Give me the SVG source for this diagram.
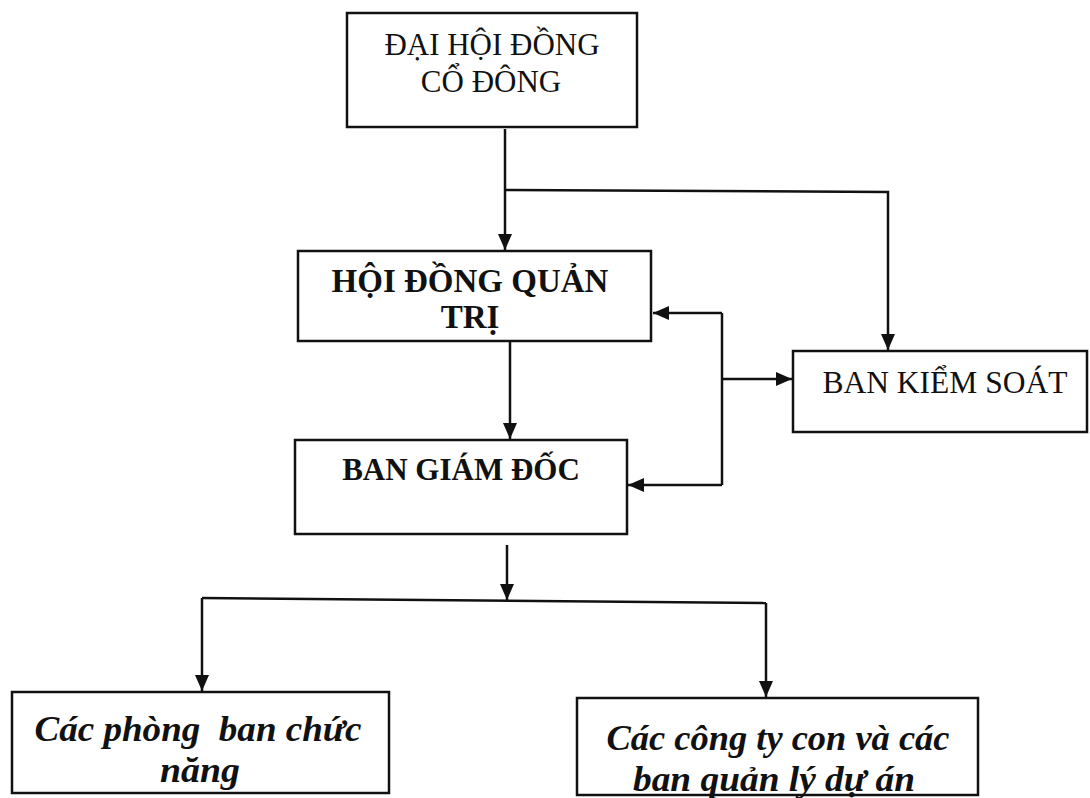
<svg xmlns="http://www.w3.org/2000/svg" width="1090" height="798" viewBox="0 0 1090 798">
<style>
.box{fill:#fff;stroke:#111;stroke-width:2.5}
.ln{fill:none;stroke:#111;stroke-width:2.5}
.t{font-family:"Liberation Serif","Times New Roman",serif;fill:#111;text-anchor:middle}
.b{font-weight:bold}
.bi{font-weight:bold;font-style:italic;font-size:36px}
</style>
<defs>
<marker id="ah" markerUnits="userSpaceOnUse" markerWidth="16" markerHeight="14" viewBox="0 0 16 14" refX="16" refY="7" orient="auto">
<path d="M0,0 L16,7 L0,14 Z" fill="#111"/>
</marker>
</defs>
<rect width="1090" height="798" fill="#fff"/>
<g id="connectors">
<path class="ln" d="M505,129 V250" marker-end="url(#ah)"/>
<path class="ln" d="M505,190 L888,192 V350" marker-end="url(#ah)"/>
<path class="ln" d="M510,342 V439" marker-end="url(#ah)"/>
<path class="ln" d="M722,313 H653" marker-end="url(#ah)"/>
<path class="ln" d="M722,313 V485"/>
<path class="ln" d="M722,485 H628" marker-end="url(#ah)"/>
<path class="ln" d="M722,379 H792" marker-end="url(#ah)"/>
<path class="ln" d="M507,545 V600" marker-end="url(#ah)"/>
<path class="ln" d="M202,598 L766,603"/>
<path class="ln" d="M202,598 V691" marker-end="url(#ah)"/>
<path class="ln" d="M766,603 V697" marker-end="url(#ah)"/>
</g>
<g id="dhdcd">
<rect class="box" x="347" y="13" width="290" height="114"/>
<text class="t" x="492" y="55" font-size="31">ĐẠI HỘI ĐỒNG</text>
<text class="t" x="491" y="92" font-size="31">CỔ ĐÔNG</text>
</g>
<g id="hdqt">
<rect class="box" x="298" y="251" width="353" height="90"/>
<text class="t b" x="470" y="292" font-size="33">HỘI ĐỒNG QUẢN</text>
<text class="t b" x="470" y="328" font-size="33">TRỊ</text>
</g>
<g id="bgd">
<rect class="box" x="295" y="440" width="332" height="94"/>
<text class="t b" x="461" y="480" font-size="31">BAN GIÁM ĐỐC</text>
</g>
<g id="bks">
<rect class="box" x="793" y="351" width="294" height="81"/>
<text class="t" x="945" y="393" font-size="31.5">BAN KIỂM SOÁT</text>
</g>
<g id="phongban">
<rect class="box" x="12" y="692" width="377" height="101"/>
<text class="t bi" x="198" y="741" textLength="327" lengthAdjust="spacingAndGlyphs" xml:space="preserve">Các phòng  ban chức</text>
<text class="t bi" x="200" y="782" textLength="80" lengthAdjust="spacingAndGlyphs">năng</text>
</g>
<g id="congtycon">
<rect class="box" x="577" y="698" width="401" height="97"/>
<text class="t bi" x="778" y="750" textLength="343" lengthAdjust="spacingAndGlyphs">Các công ty con và các</text>
<text class="t bi" x="774" y="791" textLength="282" lengthAdjust="spacingAndGlyphs">ban quản lý dự án</text>
</g>
</svg>
